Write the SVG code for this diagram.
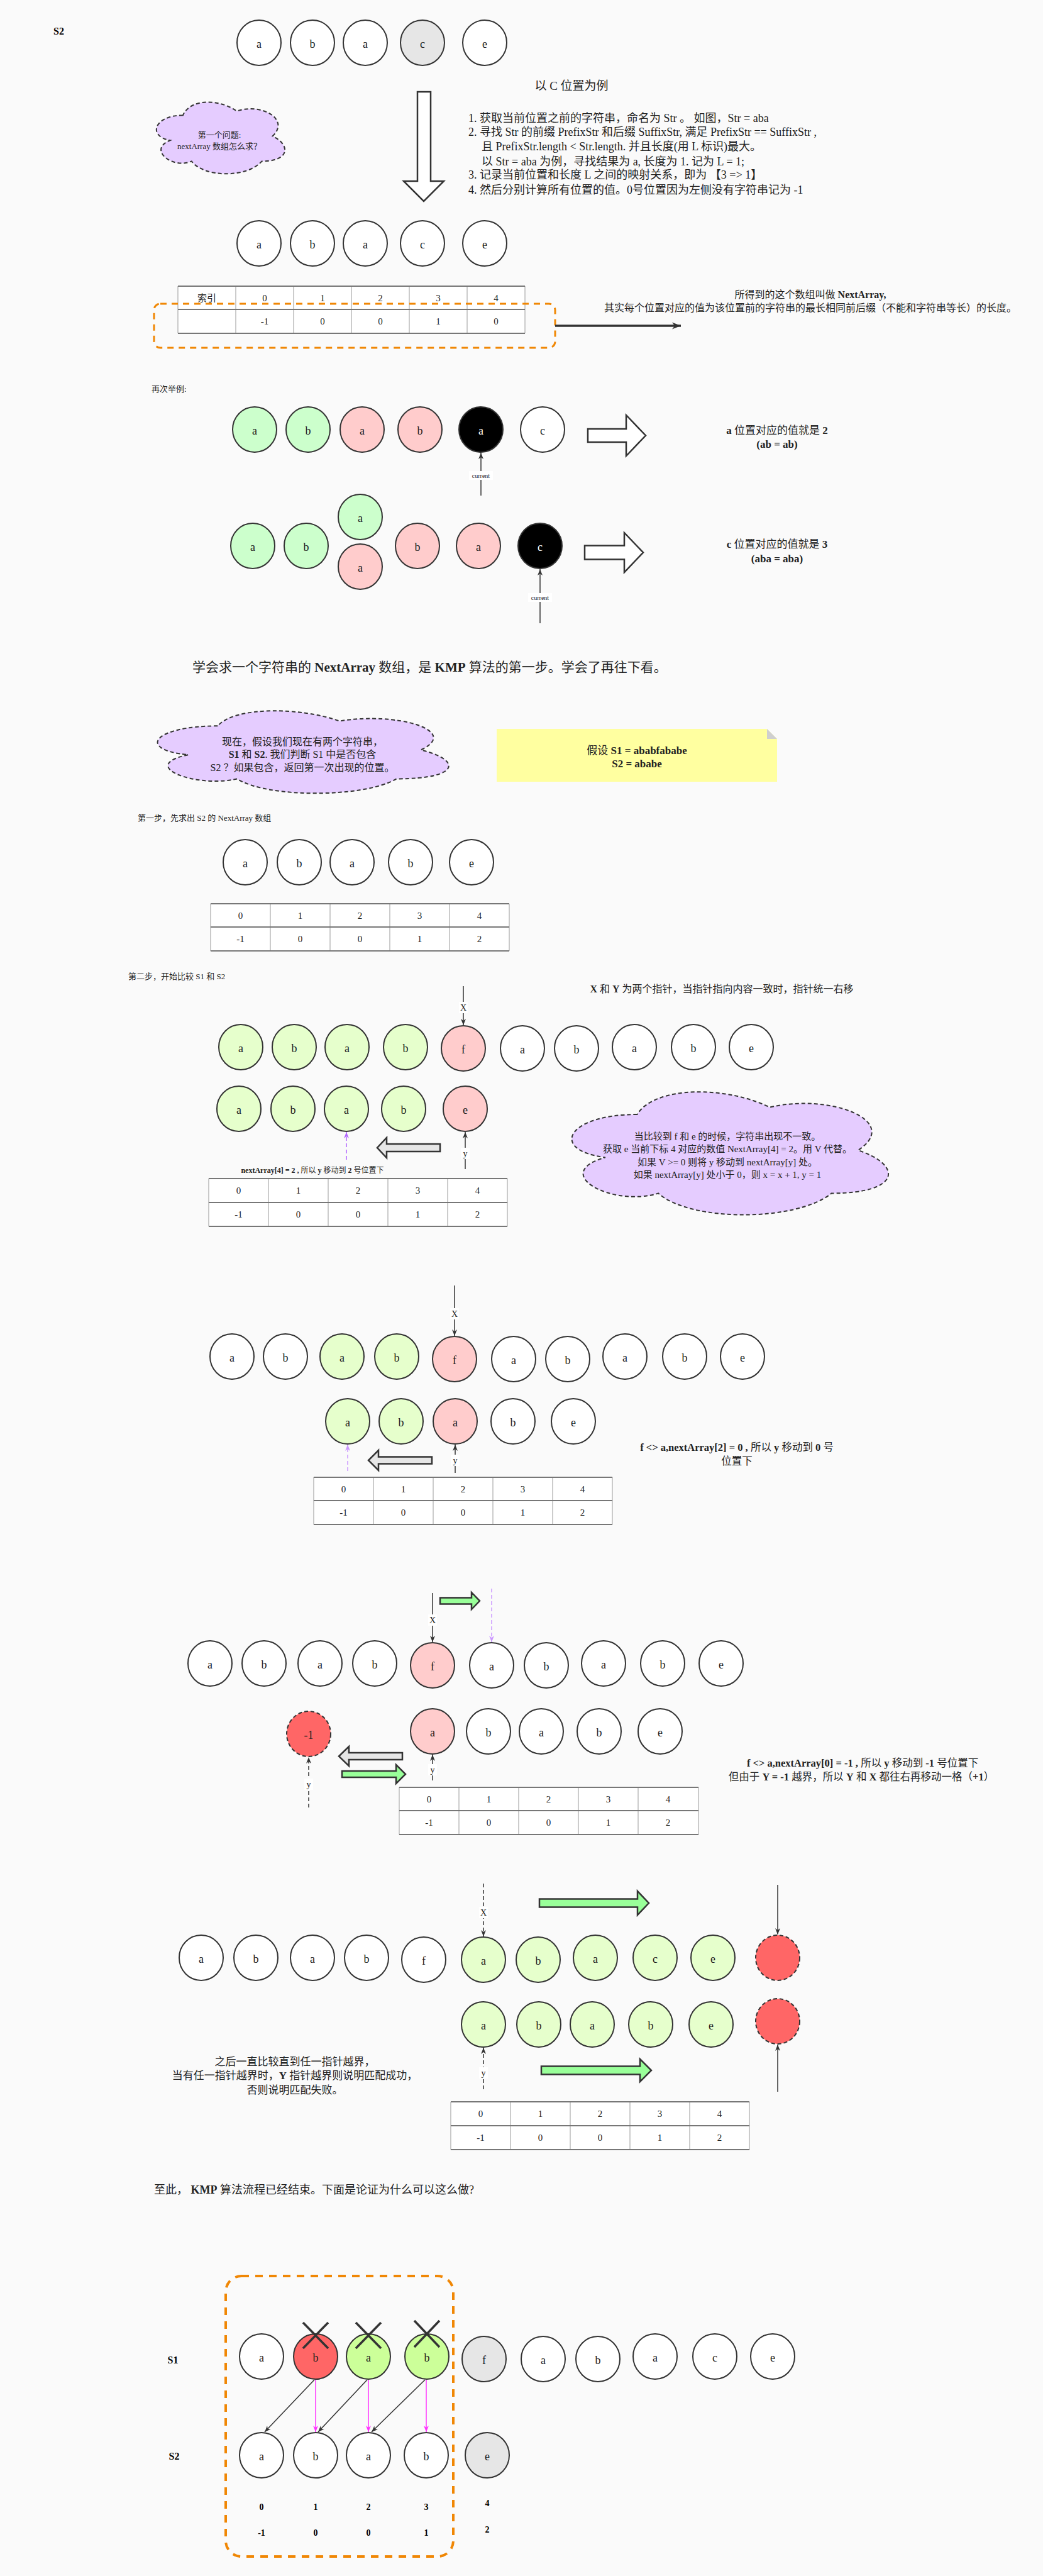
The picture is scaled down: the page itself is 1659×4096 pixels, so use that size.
<svg xmlns="http://www.w3.org/2000/svg" width="1659" height="4096" viewBox="0 0 1659 4096">
<style>
.f{font-family:"Liberation Serif","Noto Sans CJK SC",serif;fill:#222}
.b{font-weight:bold;fill:#000}
.bo{font-weight:bold}
.m{text-anchor:middle}
.cb{dominant-baseline:central}
.n{stroke:#333;stroke-width:2}
.w{fill:#fff}.g1{fill:#ccffcc}.g2{fill:#e6ffcc}.g3{fill:#ccff99}.pk{fill:#ffcccc}.rd{fill:#ff6666}.gy{fill:#e6e6e6}.bk{fill:#000}
.dash{stroke-dasharray:6 4}
.lt{font-family:"Liberation Serif","Noto Sans CJK SC",serif;font-size:18px;fill:#222;text-anchor:middle}
.tv{stroke:#999;stroke-width:1}
.th{stroke:#777;stroke-width:2}
.tt{font-family:"Liberation Serif",serif;font-size:15px;fill:#222;text-anchor:middle;dominant-baseline:central}
.cl{fill:#e5ccff;stroke:#333;stroke-width:2;stroke-dasharray:6 4}
.ln{stroke:#333;stroke-width:1.5;fill:none}
.hol{stroke:#333;stroke-width:2.5}
.lbl{font-family:"Liberation Serif",serif;font-size:14px;fill:#222;text-anchor:middle;dominant-baseline:central}
</style>
<defs>
<marker id="ah" viewBox="0 0 10 10" refX="10" refY="5" markerWidth="10" markerHeight="10" markerUnits="userSpaceOnUse" orient="auto"><path d="M0,1 L10,5 L0,9 L3,5 Z" fill="#333"/></marker>
<marker id="ahL" viewBox="0 0 10 10" refX="10" refY="5" markerWidth="14" markerHeight="14" markerUnits="userSpaceOnUse" orient="auto"><path d="M0,1 L10,5 L0,9 L3,5 Z" fill="#333"/></marker>
<marker id="ap" viewBox="0 0 10 10" refX="10" refY="5" markerWidth="10" markerHeight="10" markerUnits="userSpaceOnUse" orient="auto"><path d="M0,1 L10,5 L0,9 L3,5 Z" fill="#b266ff"/></marker>
<marker id="ap2" viewBox="0 0 10 10" refX="10" refY="5" markerWidth="10" markerHeight="10" markerUnits="userSpaceOnUse" orient="auto"><path d="M0,1 L10,5 L0,9 L3,5 Z" fill="#cc99ff"/></marker>
<marker id="am" viewBox="0 0 10 10" refX="10" refY="5" markerWidth="10" markerHeight="10" markerUnits="userSpaceOnUse" orient="auto"><path d="M0,1 L10,5 L0,9 L3,5 Z" fill="#ff33ff"/></marker>
</defs>
<rect x="0" y="0" width="1659" height="4096" fill="#fafafa"/>

<!-- ===== Section 0 ===== -->
<text class="f b" x="85" y="55" font-size="16">S2</text>
<g id="rowA">
<g id="A1"><ellipse class="n w" cx="412" cy="68" rx="35" ry="36"/><text class="lt" x="412" y="76">a</text></g>
<g id="A2"><ellipse class="n w" cx="497" cy="68" rx="35" ry="36"/><text class="lt" x="497" y="76">b</text></g>
<g id="A3"><ellipse class="n w" cx="581" cy="68" rx="35" ry="36"/><text class="lt" x="581" y="76">a</text></g>
<g id="A4"><ellipse class="n gy" cx="672" cy="68" rx="35" ry="36"/><text class="lt" x="672" y="76">c</text></g>
<g id="A5"><ellipse class="n w" cx="771" cy="68" rx="35" ry="36"/><text class="lt" x="771" y="76">e</text></g>
</g>
<text class="f m cb" x="909" y="136" font-size="19">以 C 位置为例</text>
<g id="bigDownArrow"><path class="hol" fill="#fff" d="M664,146 L685,146 L685,288 L706,288 L674,320 L642,288 L664,288 Z"/></g>
<g id="cloud1">
<path class="cl" d="M291,183.3 C245.4,183.3 234,216.5 270.5,223.2 C234,237.8 275,269.7 304.7,256.4 C325.2,283 393.6,283 416.4,256.4 C462,256.4 462,229.8 433.5,216.5 C462,189.9 416.4,163.3 376.5,176.6 C348,156.7 302.4,156.7 291,183.3 Z"/>
<text class="f m cb" x="349" y="214" font-size="13">第一个问题:</text>
<text class="f m cb" x="349" y="232" font-size="13">nextArray 数组怎么求？</text>
</g>
<g id="steps" class="f" font-size="18">
<text x="745" y="194">1. 获取当前位置之前的字符串，命名为 Str 。 如图，Str = aba</text>
<text x="745" y="216">2. 寻找 Str 的前缀 PrefixStr 和后缀 SuffixStr, 满足 PrefixStr == SuffixStr ,</text>
<text x="766" y="239">且 PrefixStr.length &lt; Str.length. 并且长度(用 L 标识)最大。</text>
<text x="766" y="263">以 Str = aba 为例，寻找结果为 a, 长度为 1. 记为 L = 1;</text>
<text x="745" y="284">3. 记录当前位置和长度 L 之间的映射关系，即为 【3 =&gt; 1】</text>
<text x="745" y="308">4. 然后分别计算所有位置的值。0号位置因为左侧没有字符串记为 -1</text>
</g>
<g id="rowB">
<g id="B1"><ellipse class="n w" cx="412" cy="387" rx="35" ry="36"/><text class="lt" x="412" y="395">a</text></g>
<g id="B2"><ellipse class="n w" cx="497" cy="387" rx="35" ry="36"/><text class="lt" x="497" y="395">b</text></g>
<g id="B3"><ellipse class="n w" cx="581" cy="387" rx="35" ry="36"/><text class="lt" x="581" y="395">a</text></g>
<g id="B4"><ellipse class="n w" cx="672" cy="387" rx="35" ry="36"/><text class="lt" x="672" y="395">c</text></g>
<g id="B5"><ellipse class="n w" cx="771" cy="387" rx="35" ry="36"/><text class="lt" x="771" y="395">e</text></g>
</g>
<g id="table1">
<rect x="283" y="455" width="552" height="75" fill="#fff"/>
<path class="tv" d="M283,455V530M375,455V530M467,455V530M559,455V530M651,455V530M743,455V530M835,455V530"/>
<path class="th" d="M283,455H835M283,492H835M283,530H835"/>
<g class="tt"><text x="329" y="474" font-family="Liberation Serif,Noto Sans CJK SC,serif">索引</text><text x="421" y="474">0</text><text x="513" y="474">1</text><text x="605" y="474">2</text><text x="697" y="474">3</text><text x="789" y="474">4</text>
<text x="421" y="511">-1</text><text x="513" y="511">0</text><text x="605" y="511">0</text><text x="697" y="511">1</text><text x="789" y="511">0</text></g>
</g>
<g id="orangeBox1"><rect x="245" y="483" width="638" height="70" rx="10" fill="none" stroke="#f08705" stroke-width="3" stroke-dasharray="10 8"/></g>
<g id="nextArrayNote">
<text class="f m cb" x="1289" y="468" font-size="16">所得到的这个数组叫做 <tspan class="bo">NextArray,</tspan></text>
<text class="f m cb" x="1289" y="489" font-size="16">其实每个位置对应的值为该位置前的字符串的最长相同前后缀（不能和字符串等长）的长度。</text>
</g>
<text class="f" x="241" y="623" font-size="13">再次举例:</text>
<g id="rowC">
<g id="C1"><ellipse class="n g1" cx="405" cy="683" rx="35" ry="36"/><text class="lt" x="405" y="691">a</text></g>
<g id="C2"><ellipse class="n g1" cx="490" cy="683" rx="35" ry="36"/><text class="lt" x="490" y="691">b</text></g>
<g id="C3"><ellipse class="n pk" cx="576" cy="683" rx="35" ry="36"/><text class="lt" x="576" y="691">a</text></g>
<g id="C4"><ellipse class="n pk" cx="668" cy="683" rx="35" ry="36"/><text class="lt" x="668" y="691">b</text></g>
<g id="C5"><ellipse class="n bk" cx="765" cy="683" rx="35" ry="36"/><text class="lt" x="765" y="691" style="fill:#fff">a</text></g>
<g id="C6"><ellipse class="n w" cx="863" cy="683" rx="35" ry="36"/><text class="lt" x="863" y="691">c</text></g>
</g>
<g id="hollowR1"><path class="hol" fill="#fff" d="M935,682 L996,682 L996,660 L1027,692.5 L996,725 L996,703 L935,703 Z"/></g>
<g id="noteA"><text class="f m cb" x="1236" y="684" font-size="17"><tspan class="bo">a</tspan> 位置对应的值就是 <tspan class="bo">2</tspan></text><text class="f bo m cb" x="1236" y="706" font-size="17">(ab = ab)</text></g>
<g id="rowD">
<g id="D1"><ellipse class="n g1" cx="402" cy="868" rx="35" ry="36"/><text class="lt" x="402" y="876">a</text></g>
<g id="D2"><ellipse class="n g1" cx="487" cy="868" rx="35" ry="36"/><text class="lt" x="487" y="876">b</text></g>
<g id="D3"><ellipse class="n g1" cx="573" cy="822" rx="35" ry="36"/><text class="lt" x="573" y="830">a</text></g>
<g id="D3b"><ellipse class="n pk" cx="573" cy="901" rx="35" ry="36"/><text class="lt" x="573" y="909">a</text></g>
<g id="D4"><ellipse class="n pk" cx="664" cy="868" rx="35" ry="36"/><text class="lt" x="664" y="876">b</text></g>
<g id="D5"><ellipse class="n pk" cx="761" cy="868" rx="35" ry="36"/><text class="lt" x="761" y="876">a</text></g>
<g id="D6"><ellipse class="n bk" cx="859" cy="868" rx="35" ry="36"/><text class="lt" x="859" y="876" style="fill:#fff">c</text></g>
</g>
<g id="hollowR2"><path class="hol" fill="#fff" d="M930,867.5 L993,867.5 L993,847 L1023,878.5 L993,910 L993,889.5 L930,889.5 Z"/></g>
<g id="noteC"><text class="f m cb" x="1236" y="865" font-size="17"><tspan class="bo">c</tspan> 位置对应的值就是 <tspan class="bo">3</tspan></text><text class="f bo m cb" x="1236" y="888" font-size="17">(aba = aba)</text></g>
<text class="f" x="306" y="1068" font-size="21">学会求一个字符串的 <tspan class="bo">NextArray</tspan> 数组，是 <tspan class="bo">KMP</tspan> 算法的第一步。学会了再往下看。</text>
<g id="cloud2">
<path class="cl" d="M346.3,1154.3 C242.9,1154.3 217,1192.5 299.7,1200.2 C217,1217 310.1,1253.7 377.3,1238.4 C423.8,1269 578.9,1269 630.6,1238.4 C734,1238.4 734,1207.8 669.4,1192.5 C734,1161.9 630.6,1131.3 540.1,1146.6 C475.5,1123.7 372.1,1123.7 346.3,1154.3 Z"/>
<text class="f m cb" x="481" y="1179" font-size="16">现在，假设我们现在有两个字符串，</text>
<text class="f m cb" x="481" y="1199" font-size="16"><tspan class="bo">S1</tspan> 和 <tspan class="bo">S2</tspan>. 我们判断 S1 中是否包含</text>
<text class="f m cb" x="481" y="1220" font-size="16">S2 ？如果包含，返回第一次出现的位置。</text>
</g>
<g id="noteYellow">
<path d="M790,1159 L1220,1159 L1236,1175 L1236,1243 L790,1243 Z" fill="#ffffa0"/>
<path d="M1220,1159 L1220,1175 L1236,1175 Z" fill="#cfcfcf"/>
<text class="f m cb" x="1013" y="1193" font-size="17">假设 <tspan class="bo">S1 = ababfababe</tspan></text>
<text class="f bo m cb" x="1013" y="1214" font-size="17">S2 = ababe</text>
</g>

<!-- ===== Section 1 ===== -->
<text class="f" x="219" y="1305" font-size="13">第一步，先求出 S2 的 NextArray 数组</text>
<g id="rowE">
<g id="E1"><ellipse class="n w" cx="390" cy="1371" rx="35" ry="36"/><text class="lt" x="390" y="1379">a</text></g>
<g id="E2"><ellipse class="n w" cx="476" cy="1371" rx="35" ry="36"/><text class="lt" x="476" y="1379">b</text></g>
<g id="E3"><ellipse class="n w" cx="560" cy="1371" rx="35" ry="36"/><text class="lt" x="560" y="1379">a</text></g>
<g id="E4"><ellipse class="n w" cx="653" cy="1371" rx="35" ry="36"/><text class="lt" x="653" y="1379">b</text></g>
<g id="E5"><ellipse class="n w" cx="750" cy="1371" rx="35" ry="36"/><text class="lt" x="750" y="1379">e</text></g>
</g>
<g id="table2">
<rect x="335" y="1437" width="475" height="75" fill="#fff"/>
<path class="tv" d="M335,1437V1512M430,1437V1512M525,1437V1512M620,1437V1512M715,1437V1512M810,1437V1512"/>
<path class="th" d="M335,1437H810M335,1474H810M335,1512H810"/>
<g class="tt"><text x="382.5" y="1455.5">0</text><text x="477.5" y="1455.5">1</text><text x="572.5" y="1455.5">2</text><text x="667.5" y="1455.5">3</text><text x="762.5" y="1455.5">4</text>
<text x="382.5" y="1493">-1</text><text x="477.5" y="1493">0</text><text x="572.5" y="1493">0</text><text x="667.5" y="1493">1</text><text x="762.5" y="1493">2</text></g>
</g>
<text class="f" x="204" y="1557" font-size="13">第二步，开始比较 S1 和 S2</text>

<!-- ===== Section 2 ===== -->
<text class="f m cb" x="1148" y="1572" font-size="16"><tspan class="bo">X</tspan> 和 <tspan class="bo">Y</tspan> 为两个指针，当指针指向内容一致时，指针统一右移</text>
<g id="rowF">
<g id="F1"><ellipse class="n g2" cx="383" cy="1665" rx="35" ry="36"/><text class="lt" x="383" y="1673">a</text></g>
<g id="F2"><ellipse class="n g2" cx="468" cy="1665" rx="35" ry="36"/><text class="lt" x="468" y="1673">b</text></g>
<g id="F3"><ellipse class="n g2" cx="552" cy="1665" rx="35" ry="36"/><text class="lt" x="552" y="1673">a</text></g>
<g id="F4"><ellipse class="n g2" cx="645" cy="1665" rx="35" ry="36"/><text class="lt" x="645" y="1673">b</text></g>
<g id="F5"><ellipse class="n pk" cx="737" cy="1667" rx="35" ry="36"/><text class="lt" x="737" y="1675">f</text></g>
<g id="F6"><ellipse class="n w" cx="831" cy="1667" rx="35" ry="36"/><text class="lt" x="831" y="1675">a</text></g>
<g id="F7"><ellipse class="n w" cx="917" cy="1667" rx="35" ry="36"/><text class="lt" x="917" y="1675">b</text></g>
<g id="F8"><ellipse class="n w" cx="1009" cy="1665" rx="35" ry="36"/><text class="lt" x="1009" y="1673">a</text></g>
<g id="F9"><ellipse class="n w" cx="1103" cy="1665" rx="35" ry="36"/><text class="lt" x="1103" y="1673">b</text></g>
<g id="F10"><ellipse class="n w" cx="1195" cy="1665" rx="35" ry="36"/><text class="lt" x="1195" y="1673">e</text></g>
</g>
<g id="rowG">
<g id="G1"><ellipse class="n g2" cx="380" cy="1763" rx="35" ry="36"/><text class="lt" x="380" y="1771">a</text></g>
<g id="G2"><ellipse class="n g2" cx="466" cy="1763" rx="35" ry="36"/><text class="lt" x="466" y="1771">b</text></g>
<g id="G3"><ellipse class="n g2" cx="551" cy="1763" rx="35" ry="36"/><text class="lt" x="551" y="1771">a</text></g>
<g id="G4"><ellipse class="n g2" cx="642" cy="1763" rx="35" ry="36"/><text class="lt" x="642" y="1771">b</text></g>
<g id="G5"><ellipse class="n pk" cx="740" cy="1763" rx="35" ry="36"/><text class="lt" x="740" y="1771">e</text></g>
</g>
<g id="grayL1"><path class="hol" fill="#e6e6e6" d="M700,1819 L615,1819 L615,1809 L600,1825 L615,1841 L615,1831 L700,1831 Z"/></g>
<text class="f m cb" x="497" y="1861" font-size="12"><tspan class="bo">nextArray[4] = 2 ,</tspan> 所以 <tspan class="bo">y</tspan> 移动到 <tspan class="bo">2</tspan> 号位置下</text>
<g id="table3">
<rect x="332" y="1874" width="475" height="76" fill="#fff"/>
<path class="tv" d="M332,1874V1950M427,1874V1950M522,1874V1950M617,1874V1950M712,1874V1950M807,1874V1950"/>
<path class="th" d="M332,1874H807M332,1912H807M332,1950H807"/>
<g class="tt"><text x="379.5" y="1893">0</text><text x="474.5" y="1893">1</text><text x="569.5" y="1893">2</text><text x="664.5" y="1893">3</text><text x="759.5" y="1893">4</text>
<text x="379.5" y="1931">-1</text><text x="474.5" y="1931">0</text><text x="569.5" y="1931">0</text><text x="664.5" y="1931">1</text><text x="759.5" y="1931">2</text></g>
</g>
<g id="cloud3">
<path class="cl" d="M1013.5,1772 C901.1,1772 873,1829 962.9,1840.4 C873,1865.5 974.2,1920.2 1047.2,1897.4 C1097.8,1943 1266.4,1943 1322.6,1897.4 C1435,1897.4 1435,1851.8 1364.8,1829 C1435,1783.4 1322.6,1737.8 1224.3,1760.6 C1154,1726.4 1041.6,1726.4 1013.5,1772 Z"/>
<text class="f m cb" x="1157" y="1807" font-size="15">当比较到 f 和 e 的时候，字符串出现不一致。</text>
<text class="f m cb" x="1157" y="1827" font-size="15">获取 e 当前下标 4 对应的数值 NextArray[4] = 2。用 V 代替。</text>
<text class="f m cb" x="1157" y="1848" font-size="15">如果 V &gt;= 0 则将 y 移动到 nextArray[y] 处。</text>
<text class="f m cb" x="1157" y="1868" font-size="15">如果 nextArray[y] 处小于 0，则 x = x + 1, y = 1</text>
</g>

<!-- ===== Section 3 ===== -->
<g id="rowH">
<g id="H1"><ellipse class="n w" cx="369" cy="2157" rx="35" ry="36"/><text class="lt" x="369" y="2165">a</text></g>
<g id="H2"><ellipse class="n w" cx="454" cy="2157" rx="35" ry="36"/><text class="lt" x="454" y="2165">b</text></g>
<g id="H3"><ellipse class="n g2" cx="544" cy="2157" rx="35" ry="36"/><text class="lt" x="544" y="2165">a</text></g>
<g id="H4"><ellipse class="n g2" cx="631" cy="2157" rx="35" ry="36"/><text class="lt" x="631" y="2165">b</text></g>
<g id="H5"><ellipse class="n pk" cx="723" cy="2161" rx="35" ry="36"/><text class="lt" x="723" y="2169">f</text></g>
<g id="H6"><ellipse class="n w" cx="817" cy="2161" rx="35" ry="36"/><text class="lt" x="817" y="2169">a</text></g>
<g id="H7"><ellipse class="n w" cx="903" cy="2161" rx="35" ry="36"/><text class="lt" x="903" y="2169">b</text></g>
<g id="H8"><ellipse class="n w" cx="994" cy="2157" rx="35" ry="36"/><text class="lt" x="994" y="2165">a</text></g>
<g id="H9"><ellipse class="n w" cx="1089" cy="2157" rx="35" ry="36"/><text class="lt" x="1089" y="2165">b</text></g>
<g id="H10"><ellipse class="n w" cx="1181" cy="2157" rx="35" ry="36"/><text class="lt" x="1181" y="2165">e</text></g>
</g>
<g id="rowI">
<g id="I1"><ellipse class="n g2" cx="553" cy="2260" rx="35" ry="36"/><text class="lt" x="553" y="2268">a</text></g>
<g id="I2"><ellipse class="n g2" cx="638" cy="2260" rx="35" ry="36"/><text class="lt" x="638" y="2268">b</text></g>
<g id="I3"><ellipse class="n pk" cx="724" cy="2260" rx="35" ry="36"/><text class="lt" x="724" y="2268">a</text></g>
<g id="I4"><ellipse class="n w" cx="816" cy="2260" rx="35" ry="36"/><text class="lt" x="816" y="2268">b</text></g>
<g id="I5"><ellipse class="n w" cx="912" cy="2260" rx="35" ry="36"/><text class="lt" x="912" y="2268">e</text></g>
</g>
<g id="grayL2"><path class="hol" fill="#e6e6e6" d="M687,2316.5 L602,2316.5 L602,2306 L586,2322 L602,2338 L602,2327.5 L687,2327.5 Z"/></g>
<g id="noteS3"><text class="f m cb" x="1172" y="2301" font-size="16.5"><tspan class="bo">f &lt;&gt; a,nextArray[2] = 0 ,</tspan> 所以 <tspan class="bo">y</tspan> 移动到 <tspan class="bo">0</tspan> 号</text><text class="f m cb" x="1172" y="2323" font-size="16.5">位置下</text></g>
<g id="table4">
<rect x="499" y="2349" width="475" height="75" fill="#fff"/>
<path class="tv" d="M499,2349V2424M594,2349V2424M689,2349V2424M784,2349V2424M879,2349V2424M974,2349V2424"/>
<path class="th" d="M499,2349H974M499,2386H974M499,2424H974"/>
<g class="tt"><text x="546.5" y="2367.5">0</text><text x="641.5" y="2367.5">1</text><text x="736.5" y="2367.5">2</text><text x="831.5" y="2367.5">3</text><text x="926.5" y="2367.5">4</text>
<text x="546.5" y="2405">-1</text><text x="641.5" y="2405">0</text><text x="736.5" y="2405">0</text><text x="831.5" y="2405">1</text><text x="926.5" y="2405">2</text></g>
</g>

<!-- ===== Section 4 ===== -->
<g id="greenR1"><path class="hol" fill="#99ff99" d="M700,2540.5 L750,2540.5 L750,2532 L763,2545.5 L750,2559 L750,2550.5 L700,2550.5 Z"/></g>
<g id="rowJ">
<g id="J1"><ellipse class="n w" cx="334" cy="2645" rx="35" ry="36"/><text class="lt" x="334" y="2653">a</text></g>
<g id="J2"><ellipse class="n w" cx="420" cy="2645" rx="35" ry="36"/><text class="lt" x="420" y="2653">b</text></g>
<g id="J3"><ellipse class="n w" cx="509" cy="2645" rx="35" ry="36"/><text class="lt" x="509" y="2653">a</text></g>
<g id="J4"><ellipse class="n w" cx="596" cy="2645" rx="35" ry="36"/><text class="lt" x="596" y="2653">b</text></g>
<g id="J5"><ellipse class="n pk" cx="688" cy="2648" rx="35" ry="36"/><text class="lt" x="688" y="2656">f</text></g>
<g id="J6"><ellipse class="n w" cx="782" cy="2648" rx="35" ry="36"/><text class="lt" x="782" y="2656">a</text></g>
<g id="J7"><ellipse class="n w" cx="869" cy="2648" rx="35" ry="36"/><text class="lt" x="869" y="2656">b</text></g>
<g id="J8"><ellipse class="n w" cx="960" cy="2645" rx="35" ry="36"/><text class="lt" x="960" y="2653">a</text></g>
<g id="J9"><ellipse class="n w" cx="1054" cy="2645" rx="35" ry="36"/><text class="lt" x="1054" y="2653">b</text></g>
<g id="J10"><ellipse class="n w" cx="1147" cy="2645" rx="35" ry="36"/><text class="lt" x="1147" y="2653">e</text></g>
</g>
<g id="minus1"><ellipse class="n rd dash" cx="491" cy="2757" rx="35" ry="36"/><text class="lt" x="491" y="2765">-1</text></g>
<g id="rowK">
<g id="K1"><ellipse class="n pk" cx="688" cy="2753" rx="35" ry="36"/><text class="lt" x="688" y="2761">a</text></g>
<g id="K2"><ellipse class="n w" cx="777" cy="2753" rx="35" ry="36"/><text class="lt" x="777" y="2761">b</text></g>
<g id="K3"><ellipse class="n w" cx="861" cy="2753" rx="35" ry="36"/><text class="lt" x="861" y="2761">a</text></g>
<g id="K4"><ellipse class="n w" cx="953" cy="2753" rx="35" ry="36"/><text class="lt" x="953" y="2761">b</text></g>
<g id="K5"><ellipse class="n w" cx="1050" cy="2753" rx="35" ry="36"/><text class="lt" x="1050" y="2761">e</text></g>
</g>
<g id="grayL3"><path class="hol" fill="#e6e6e6" d="M640,2787 L555,2787 L555,2777 L539,2792.5 L555,2808 L555,2798 L640,2798 Z"/></g>
<g id="greenR2"><path class="hol" fill="#99ff99" d="M544,2816 L630,2816 L630,2806 L645,2821 L630,2836 L630,2826 L544,2826 Z"/></g>
<g id="noteS4"><text class="f m cb" x="1372" y="2803" font-size="16.5"><tspan class="bo">f &lt;&gt; a,nextArray[0] = -1 ,</tspan> 所以 <tspan class="bo">y</tspan> 移动到 <tspan class="bo">-1</tspan> 号位置下</text><text class="f m cb" x="1370" y="2825" font-size="16.5">但由于 <tspan class="bo">Y = -1</tspan> 越界，所以 <tspan class="bo">Y</tspan> 和 <tspan class="bo">X</tspan> 都往右再移动一格（<tspan class="bo">+1</tspan>）</text></g>
<g id="table5">
<rect x="635" y="2842" width="476" height="75" fill="#fff"/>
<path class="tv" d="M635,2842V2917M730,2842V2917M825,2842V2917M920,2842V2917M1015,2842V2917M1111,2842V2917"/>
<path class="th" d="M635,2842H1111M635,2879H1111M635,2917H1111"/>
<g class="tt"><text x="682.5" y="2860.5">0</text><text x="777.5" y="2860.5">1</text><text x="872.5" y="2860.5">2</text><text x="967.5" y="2860.5">3</text><text x="1062.5" y="2860.5">4</text>
<text x="682.5" y="2898">-1</text><text x="777.5" y="2898">0</text><text x="872.5" y="2898">0</text><text x="967.5" y="2898">1</text><text x="1062.5" y="2898">2</text></g>
</g>

<!-- ===== Section 5 ===== -->
<g id="greenR3"><path class="hol" fill="#99ff99" d="M858,3019.5 L1014,3019.5 L1014,3007 L1032,3026 L1014,3045 L1014,3032.5 L858,3032.5 Z"/></g>
<g id="rowL">
<g id="L1"><ellipse class="n w" cx="320" cy="3113" rx="35" ry="36"/><text class="lt" x="320" y="3121">a</text></g>
<g id="L2"><ellipse class="n w" cx="407" cy="3113" rx="35" ry="36"/><text class="lt" x="407" y="3121">b</text></g>
<g id="L3"><ellipse class="n w" cx="497" cy="3113" rx="35" ry="36"/><text class="lt" x="497" y="3121">a</text></g>
<g id="L4"><ellipse class="n w" cx="583" cy="3113" rx="35" ry="36"/><text class="lt" x="583" y="3121">b</text></g>
<g id="L5"><ellipse class="n w" cx="674" cy="3116" rx="35" ry="36"/><text class="lt" x="674" y="3124">f</text></g>
<g id="L6"><ellipse class="n g2" cx="769" cy="3116" rx="35" ry="36"/><text class="lt" x="769" y="3124">a</text></g>
<g id="L7"><ellipse class="n g2" cx="856" cy="3116" rx="35" ry="36"/><text class="lt" x="856" y="3124">b</text></g>
<g id="L8"><ellipse class="n g2" cx="947" cy="3113" rx="35" ry="36"/><text class="lt" x="947" y="3121">a</text></g>
<g id="L9"><ellipse class="n g2" cx="1042" cy="3113" rx="35" ry="36"/><text class="lt" x="1042" y="3121">c</text></g>
<g id="L10"><ellipse class="n g2" cx="1134" cy="3113" rx="35" ry="36"/><text class="lt" x="1134" y="3121">e</text></g>
</g>
<g id="endS1"><ellipse class="n rd dash" cx="1237" cy="3113" rx="35" ry="36"/></g>
<g id="rowM">
<g id="M1"><ellipse class="n g2" cx="769" cy="3219" rx="35" ry="36"/><text class="lt" x="769" y="3227">a</text></g>
<g id="M2"><ellipse class="n g2" cx="857" cy="3219" rx="35" ry="36"/><text class="lt" x="857" y="3227">b</text></g>
<g id="M3"><ellipse class="n g2" cx="942" cy="3219" rx="35" ry="36"/><text class="lt" x="942" y="3227">a</text></g>
<g id="M4"><ellipse class="n g2" cx="1035" cy="3219" rx="35" ry="36"/><text class="lt" x="1035" y="3227">b</text></g>
<g id="M5"><ellipse class="n g2" cx="1131" cy="3219" rx="35" ry="36"/><text class="lt" x="1131" y="3227">e</text></g>
</g>
<g id="endS2"><ellipse class="n rd dash" cx="1237" cy="3214" rx="35" ry="36"/></g>
<g id="greenR4"><path class="hol" fill="#99ff99" d="M861,3285.5 L1018,3285.5 L1018,3274 L1036,3292 L1018,3310 L1018,3298.5 L861,3298.5 Z"/></g>
<g id="noteS5">
<text class="f m cb" x="469" y="3278" font-size="17">之后一直比较直到任一指针越界，</text>
<text class="f m cb" x="469" y="3300" font-size="17">当有任一指针越界时，<tspan class="bo">Y</tspan> 指针越界则说明匹配成功，</text>
<text class="f m cb" x="469" y="3323" font-size="17">否则说明匹配失败。</text>
</g>
<g id="table6">
<rect x="717" y="3342" width="475" height="76" fill="#fff"/>
<path class="tv" d="M717,3342V3418M812,3342V3418M907,3342V3418M1002,3342V3418M1097,3342V3418M1192,3342V3418"/>
<path class="th" d="M717,3342H1192M717,3380H1192M717,3418H1192"/>
<g class="tt"><text x="764.5" y="3361">0</text><text x="859.5" y="3361">1</text><text x="954.5" y="3361">2</text><text x="1049.5" y="3361">3</text><text x="1144.5" y="3361">4</text>
<text x="764.5" y="3399">-1</text><text x="859.5" y="3399">0</text><text x="954.5" y="3399">0</text><text x="1049.5" y="3399">1</text><text x="1144.5" y="3399">2</text></g>
</g>
<text class="f" x="245" y="3488" font-size="18">至此， <tspan class="bo">KMP</tspan> 算法流程已经结束。下面是论证为什么可以这么做?</text>

<!-- ===== Section 6 ===== -->
<g id="orangeBox2"><rect x="359" y="3619" width="362" height="446" rx="25" fill="none" stroke="#f08705" stroke-width="4" stroke-dasharray="12 10"/></g>
<text class="f b m cb" x="275" y="3752" font-size="16">S1</text>
<text class="f b m cb" x="277" y="3905" font-size="16">S2</text>
<g id="rowN">
<g id="N1"><ellipse class="n w" cx="416" cy="3747" rx="35" ry="36"/><text class="lt" x="416" y="3755">a</text></g>
<g id="N2"><ellipse class="n rd" cx="502" cy="3747" rx="35" ry="36"/><text class="lt" x="502" y="3755">b</text></g>
<g id="N3"><ellipse class="n g3" cx="586" cy="3747" rx="35" ry="36"/><text class="lt" x="586" y="3755">a</text></g>
<g id="N4"><ellipse class="n g3" cx="679" cy="3747" rx="35" ry="36"/><text class="lt" x="679" y="3755">b</text></g>
<g id="N5"><ellipse class="n gy" cx="770" cy="3751" rx="35" ry="36"/><text class="lt" x="770" y="3759">f</text></g>
<g id="N6"><ellipse class="n w" cx="864" cy="3751" rx="35" ry="36"/><text class="lt" x="864" y="3759">a</text></g>
<g id="N7"><ellipse class="n w" cx="951" cy="3751" rx="35" ry="36"/><text class="lt" x="951" y="3759">b</text></g>
<g id="N8"><ellipse class="n w" cx="1042" cy="3747" rx="35" ry="36"/><text class="lt" x="1042" y="3755">a</text></g>
<g id="N9"><ellipse class="n w" cx="1137" cy="3747" rx="35" ry="36"/><text class="lt" x="1137" y="3755">c</text></g>
<g id="N10"><ellipse class="n w" cx="1229" cy="3747" rx="35" ry="36"/><text class="lt" x="1229" y="3755">e</text></g>
</g>
<g id="crosses" stroke="#333" stroke-width="3.5" fill="none">
<path d="M482,3693 L522,3734 M522,3693 L482,3734"/>
<path d="M566,3693 L606,3734 M606,3693 L566,3734"/>
<path d="M659,3690 L699,3732 M699,3690 L659,3732"/>
</g>
<g id="rowO">
<g id="O1"><ellipse class="n w" cx="416" cy="3904" rx="35" ry="36"/><text class="lt" x="416" y="3912">a</text></g>
<g id="O2"><ellipse class="n w" cx="502" cy="3904" rx="35" ry="36"/><text class="lt" x="502" y="3912">b</text></g>
<g id="O3"><ellipse class="n w" cx="586" cy="3904" rx="35" ry="36"/><text class="lt" x="586" y="3912">a</text></g>
<g id="O4"><ellipse class="n w" cx="678" cy="3904" rx="35" ry="36"/><text class="lt" x="678" y="3912">b</text></g>
<g id="O5"><ellipse class="n gy" cx="775" cy="3904" rx="35" ry="36"/><text class="lt" x="775" y="3912">e</text></g>
</g>
<g id="idxNums" class="f b m cb" font-size="14">
<text x="416" y="3986">0</text><text x="502" y="3986">1</text><text x="586" y="3986">2</text><text x="678" y="3986">3</text><text x="775" y="3980">4</text>
<text x="416" y="4027">-1</text><text x="502" y="4027">0</text><text x="586" y="4027">0</text><text x="678" y="4027">1</text><text x="775" y="4022">2</text>
</g>

<!-- ===== Connectors ===== -->
<g id="connectors">
<path d="M883,518 L1083,518" stroke="#333" stroke-width="3.5" fill="none" marker-end="url(#ahL)"/>
<path class="ln" d="M765,788 L765,720" marker-end="url(#ah)"/>
<rect x="746" y="749" width="38" height="14" fill="#fff"/><text class="f m cb" x="765" y="756" font-size="10">current</text>
<path class="ln" d="M859,991 L859,905" marker-end="url(#ah)"/>
<rect x="840" y="943" width="38" height="14" fill="#fff"/><text class="f m cb" x="859" y="950" font-size="10">current</text>
<path class="ln" d="M737,1568 L737,1630" marker-end="url(#ah)"/>
<rect x="730" y="1593" width="14" height="18" fill="#fff"/><text class="lbl" x="737" y="1602">X</text>
<path d="M551,1844 L551,1800" stroke="#b266ff" stroke-width="1.5" stroke-dasharray="6 4" fill="none" marker-end="url(#ap)"/>
<path class="ln" d="M740,1859 L740,1800" marker-end="url(#ah)"/>
<rect x="733" y="1825" width="14" height="18" fill="#fff"/><text class="lbl" x="740" y="1834">y</text>
<path class="ln" d="M723,2044 L723,2124" marker-end="url(#ah)"/>
<rect x="716" y="2080" width="14" height="18" fill="#fff"/><text class="lbl" x="723" y="2089">X</text>
<path d="M553,2339 L553,2297" stroke="#cc99ff" stroke-width="1.5" stroke-dasharray="6 4" fill="none" marker-end="url(#ap2)"/>
<path class="ln" d="M724,2342 L724,2297" marker-end="url(#ah)"/>
<rect x="717" y="2313" width="14" height="18" fill="#fff"/><text class="lbl" x="724" y="2322">y</text>
<path class="ln" d="M688,2533 L688,2611" marker-end="url(#ah)"/>
<rect x="681" y="2567" width="14" height="18" fill="#fff"/><text class="lbl" x="688" y="2576">X</text>
<path d="M782,2526 L782,2611" stroke="#cc99ff" stroke-width="1.5" stroke-dasharray="6 4" fill="none" marker-end="url(#ap2)"/>
<path class="ln" d="M688,2831 L688,2790" marker-end="url(#ah)"/>
<rect x="681" y="2805" width="14" height="18" fill="#fff"/><text class="lbl" x="688" y="2814">y</text>
<path class="ln dash" d="M491,2874 L491,2794" marker-end="url(#ah)"/>
<rect x="484" y="2828" width="14" height="18" fill="#fff"/><text class="lbl" x="491" y="2837">y</text>
<path class="ln dash" d="M769,2995 L769,3079" marker-end="url(#ah)"/>
<rect x="762" y="3032" width="14" height="18" fill="#fff"/><text class="lbl" x="769" y="3041">X</text>
<path class="ln" d="M1237,2997 L1237,3076" marker-end="url(#ah)"/>
<path class="ln dash" d="M769,3322 L769,3256" marker-end="url(#ah)"/>
<rect x="762" y="3287" width="14" height="18" fill="#fff"/><text class="lbl" x="769" y="3296">y</text>
<path class="ln" d="M1237,3326 L1237,3251" marker-end="url(#ah)"/>
<path class="ln" d="M500,3784 L421,3867" marker-end="url(#ah)"/>
<path class="ln" d="M584,3784 L506,3867" marker-end="url(#ah)"/>
<path class="ln" d="M676,3784 L591,3867" marker-end="url(#ah)"/>
<path d="M502,3784 L502,3867" stroke="#ff33ff" stroke-width="1.5" fill="none" marker-end="url(#am)"/>
<path d="M586,3784 L586,3867" stroke="#ff33ff" stroke-width="1.5" fill="none" marker-end="url(#am)"/>
<path d="M678,3784 L678,3867" stroke="#ff33ff" stroke-width="1.5" fill="none" marker-end="url(#am)"/>
</g>
</svg>
